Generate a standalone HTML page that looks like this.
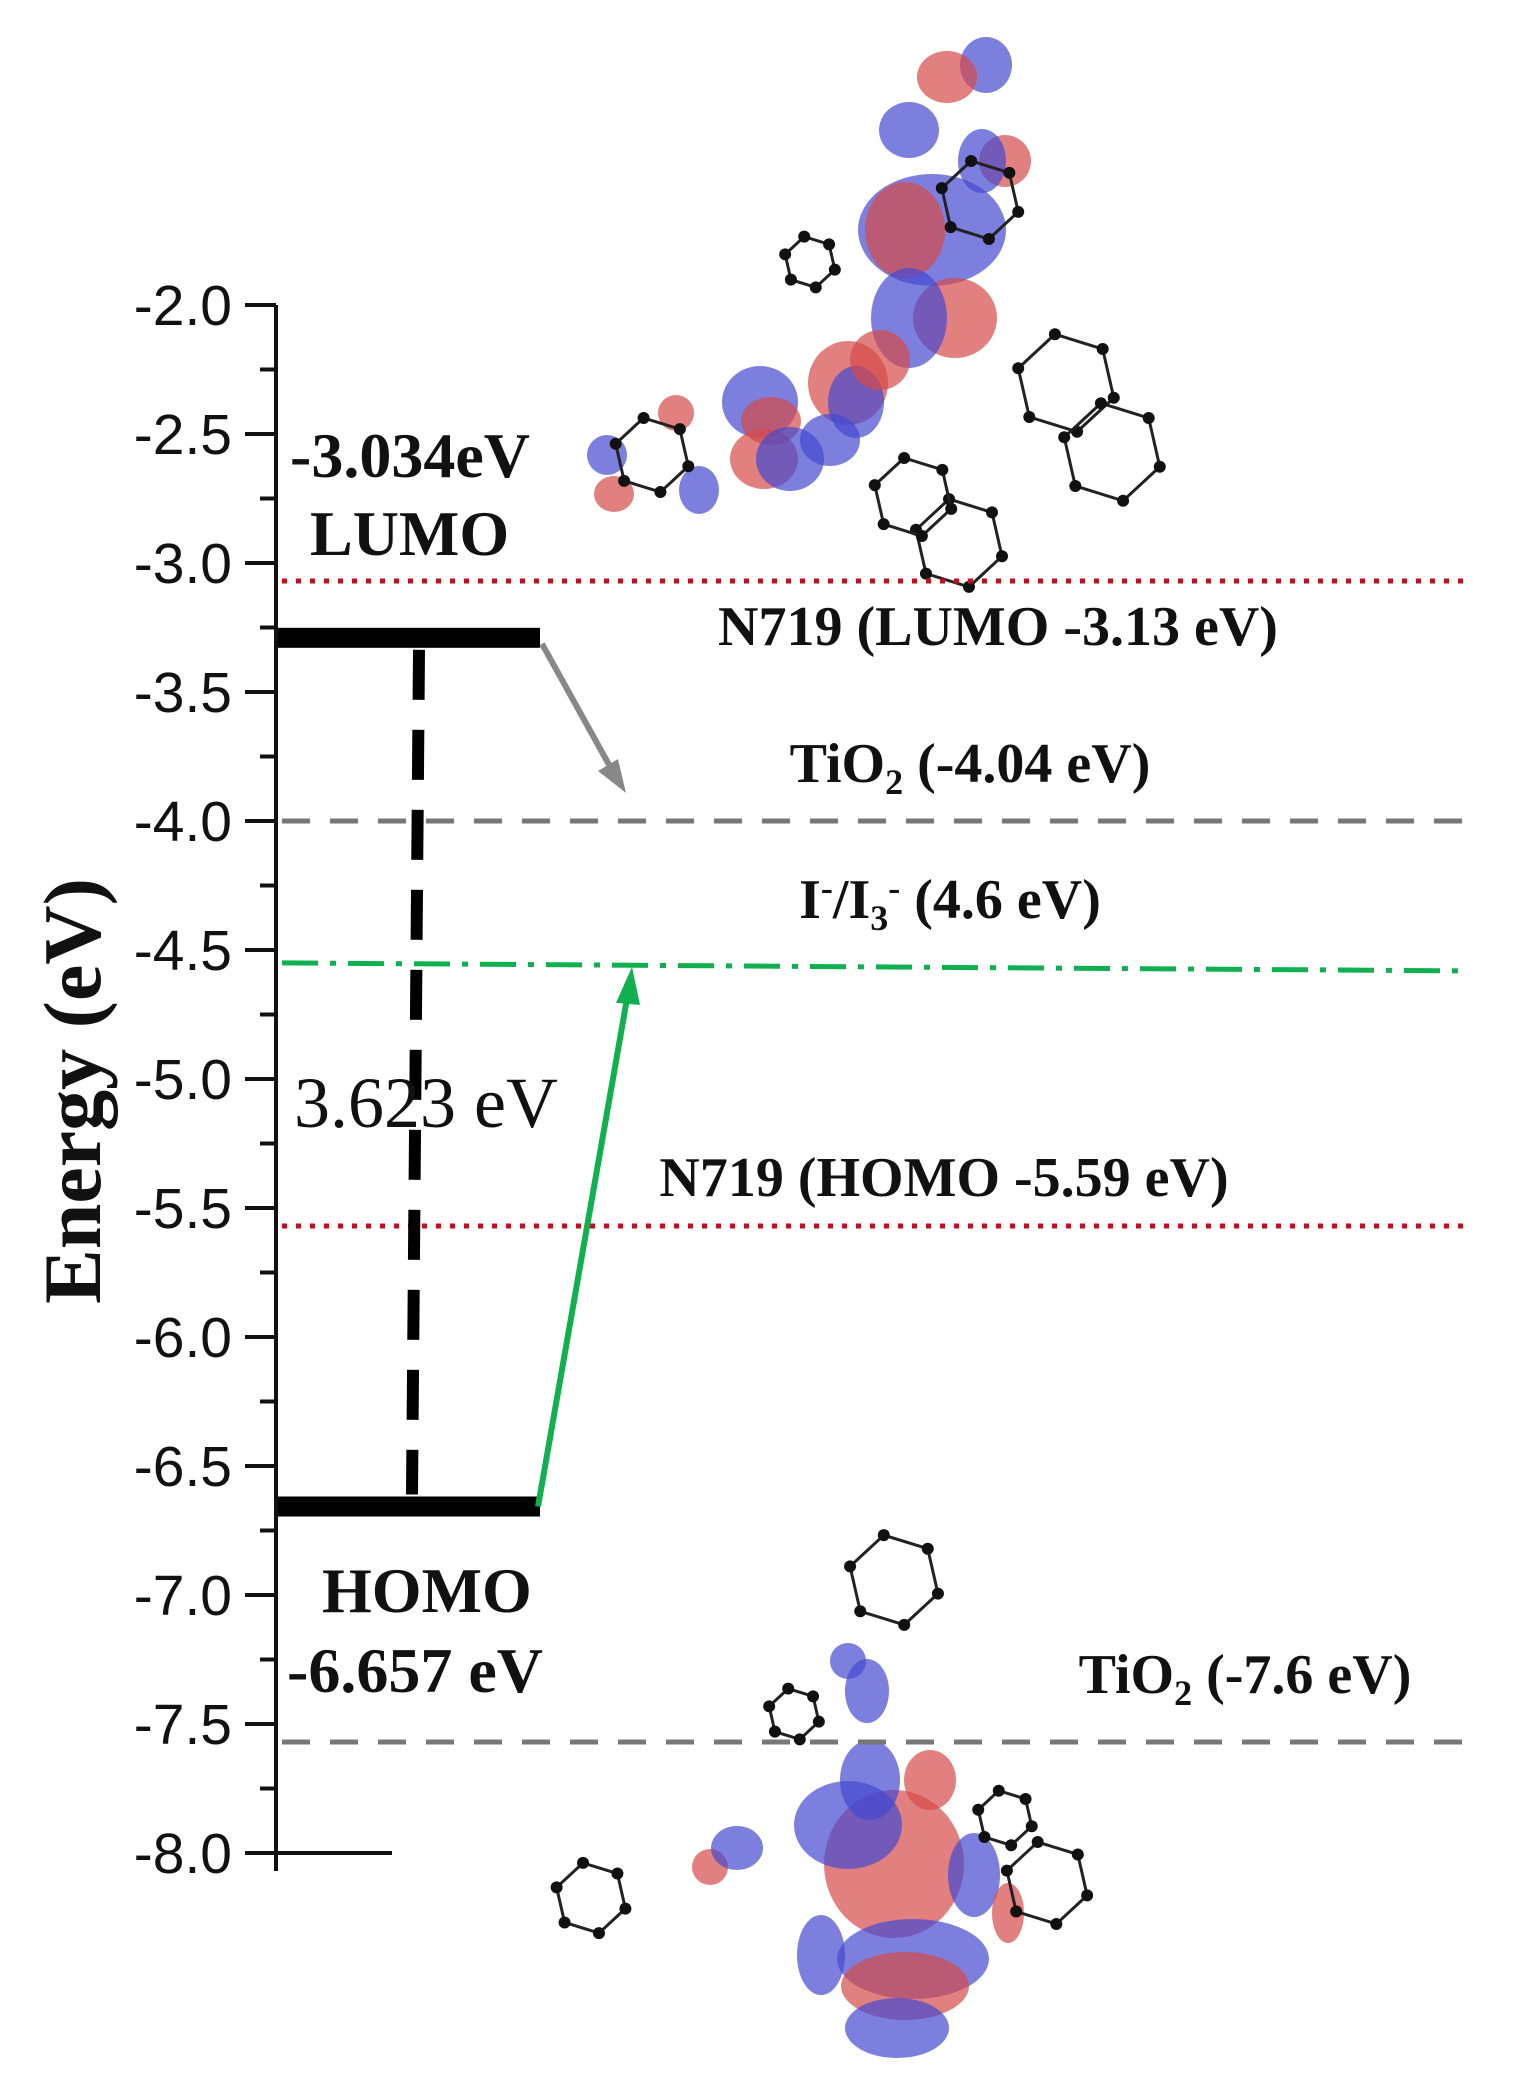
<!DOCTYPE html>
<html><head><meta charset="utf-8"><style>
html,body{margin:0;padding:0;background:#fff;}
svg{display:block;}
.tick{font-family:"Liberation Sans",sans-serif;font-size:57px;fill:#111;}
.lab{font-family:"Liberation Serif",serif;font-weight:bold;font-size:56px;fill:#111;}
</style></head><body>
<svg id="chart" width="1513" height="2094" viewBox="0 0 1513 2094" xmlns="http://www.w3.org/2000/svg">
<g id="mol-top"></g>
<g id="mol-bot"></g>
<g id="axis"></g>
<g id="levels"></g>
<g id="bars"></g>
<text transform="translate(100,1091) rotate(-90)" text-anchor="middle" font-family="Liberation Serif,serif" font-weight="bold" font-size="82" fill="#111">Energy  (eV)</text>
</svg>
<script>
const tickValues = [-2.0,-2.5,-3.0,-3.5,-4.0,-4.5,-5.0,-5.5,-6.0,-6.5,-7.0,-7.5,-8.0];
const tickLabels = ["-2.0","-2.5","-3.0","-3.5","-4.0","-4.5","-5.0","-5.5","-6.0","-6.5","-7.0","-7.5","-8.0"];
const levelNames = ["n719-lumo","tio2-cb","iodide-redox","n719-homo","tio2-vb"];
const levelValues = [-3.07,-4.0,-4.55,-5.57,-7.57];
const levelLabels = ["N719 (LUMO -3.13 eV)","TiO2 (-4.04 eV)","I-/I3- (4.6 eV)","N719 (HOMO -5.59 eV)","TiO2 (-7.6 eV)"];
const barNames = ["lumo","homo"];
const barValues = [-3.29,-6.657];

const NS="http://www.w3.org/2000/svg";
function y(v){return 305+(-2-v)*258;}
function mk(tag,attrs,parent,txt){const e=document.createElementNS(NS,tag);for(const k in attrs)e.setAttribute(k,attrs[k]);if(txt!==undefined)e.textContent=txt;parent.appendChild(e);return e;}

const mt=document.getElementById('mol-top');
const topBlobs=[["b",986,65,26,28],["r",947,77,30,26],["b",909,130,30,28],["r",1005,161,26,26],["b",982,161,24,32],["b",932,230,74,56],["r",905,230,40,48],["r",955,318,42,40],["b",909,318,38,50],["r",848,383,40,42],["b",856,402,28,36],["b",760,402,38,36],["r",771,421,30,24],["r",764,459,34,30],["b",790,459,34,32],["b",607,455,20,20],["r",614,494,20,18],["r",676,413,18,18],["b",699,490,20,24],["b",830,440,30,26],["r",880,360,30,30]];
const botBlobs=[["r",894,1864,70,74],["b",848,1825,54,44],["b",913,1959,76,40],["r",905,1986,64,34],["b",897,2028,52,30],["b",821,1955,24,40],["b",974,1875,26,42],["r",1008,1913,16,30],["r",710,1867,18,18],["b",737,1848,26,22],["b",867,1691,22,32],["b",848,1661,18,18],["b",870,1780,30,40],["r",930,1780,26,30]];
const rings=[[1066,383,50,mt],[1112,452,50,mt],[959,543,45,mt],[913,497,40,mt],[810,262,26,mt],[652,455,38,mt],[980,200,40,mt]];
function drawBlobs(list,g){list.forEach(b=>{const e=mk('ellipse',{cx:b[1],cy:b[2],rx:b[3],ry:b[4],fill:b[0]=="r"?"#d64a48":"#4548d0","fill-opacity":0.7},g);

});}
drawBlobs(topBlobs,mt);
const mb=document.getElementById('mol-bot');
drawBlobs(botBlobs,mb);
rings.push([894,1580,46,mb],[794,1714,26,mb],[591,1898,36,mb],[1047,1883,42,mb],[1005,1818,28,mb]);
rings.forEach(r=>{let pts=[];for(let i=0;i<6;i++){const a=Math.PI/3*i+0.3;pts.push([r[0]+r[2]*Math.cos(a),r[1]+r[2]*Math.sin(a)]);}
const p=mk('polygon',{points:pts.map(q=>q.join(',')).join(' '),fill:"none",stroke:"#222","stroke-width":3},r[3]);


pts.forEach(q=>mk('circle',{cx:q[0],cy:q[1],r:6,fill:"#111"},r[3]));});

const ax=document.getElementById('axis');
mk('line',{x1:276,y1:y(-2),x2:276,y2:y(-8)+18,stroke:"#111","stroke-width":4},ax);
for(let v=-2;v>=-8.001;v-=0.25){const major=Math.abs(v*2-Math.round(v*2))<1e-6;
mk('line',{x1:major?245:260,y1:y(v),x2:276,y2:y(v),stroke:"#111","stroke-width":4},ax);}
mk('line',{x1:276,y1:y(-8),x2:392,y2:y(-8),stroke:"#111","stroke-width":4},ax);
tickValues.forEach((v,i)=>{const t=mk('text',{x:232,y:y(v)+20,"text-anchor":"end",class:"tick"},ax,tickLabels[i]);

});

const lv=document.getElementById('levels');
const styles={"n719-lumo":{s:"#c0101e",d:"5 9",w:5},"tio2-cb":{s:"#777",d:"28 20",w:5},"iodide-redox":{s:"#10b050",d:"36 12 6 12",w:5},"n719-homo":{s:"#c0101e",d:"5 9",w:5},"tio2-vb":{s:"#777",d:"28 20",w:5}};
const labPos=[[998,645],[970,782],[950,918],[944,1196],[1245,1693]];
levelValues.forEach((v,i)=>{const st=styles[levelNames[i]];
const l=mk('line',{x1:282,y1:y(v),x2:1470,y2:y(v)+(i==2?8:0),stroke:st.s,"stroke-width":st.w,"stroke-dasharray":st.d},lv);


const t=mk('text',{x:labPos[i][0],y:labPos[i][1],"text-anchor":"middle",class:"lab"},lv);


const s=levelLabels[i];
if(s.startsWith("TiO2")){t.appendChild(document.createTextNode("TiO"));mk('tspan',{dy:12,"font-size":36},t,"2");mk('tspan',{dy:-12},t,s.slice(4));}
else if(s.startsWith("I-/I3-")){t.appendChild(document.createTextNode("I"));mk('tspan',{dy:-18,"font-size":36},t,"-");mk('tspan',{dy:18},t,"/I");mk('tspan',{dy:12,"font-size":36},t,"3");mk('tspan',{dy:-30,"font-size":36},t,"-");mk('tspan',{dy:18},t,s.slice(6));}
else t.textContent=s;});

const bg=document.getElementById('bars');
barValues.forEach((v,i)=>{const r=mk('rect',{x:278,y:y(v)-10,width:262,height:20,fill:"#000"},bg);

});
mk('line',{x1:419,y1:y(barValues[0])+12,x2:412,y2:y(barValues[1])-12,stroke:"#000","stroke-width":12,"stroke-dasharray":"50 30"},bg);
const a1=mk('line',{x1:542,y1:y(barValues[0])+6,x2:612,y2:y(-3.95)-38,stroke:"#888","stroke-width":6},bg);


mk('polygon',{points:`${626},${y(-4.0)-28} ${598},${y(-4.0)-50} ${618},${y(-4.0)-62}`,fill:"#888"},bg);
const a2=mk('line',{x1:538,y1:y(barValues[1]),x2:628,y2:y(-4.55)+30,stroke:"#10b050","stroke-width":6},bg);


mk('polygon',{points:`${632},${y(-4.55)+4} ${616},${y(-4.55)+40} ${640},${y(-4.55)+42}`,fill:"#10b050"},bg);
const tx=[["-3.034eV",290,477,"bold",64,"lumo-value"],["LUMO",310,555,"bold",64,"lumo-label"],["HOMO",322,1612,"bold",64,"homo-label"],["-6.657 eV",287,1692,"bold",64,"homo-value"],["3.623 eV",294,1127,"normal",72,"gap-value"]];
tx.forEach(a=>{const t=mk('text',{x:a[1],y:a[2],"font-family":"Liberation Serif,serif","font-weight":a[3],"font-size":a[4],fill:"#111"},bg,a[0]);

});
</script>
</body></html>
